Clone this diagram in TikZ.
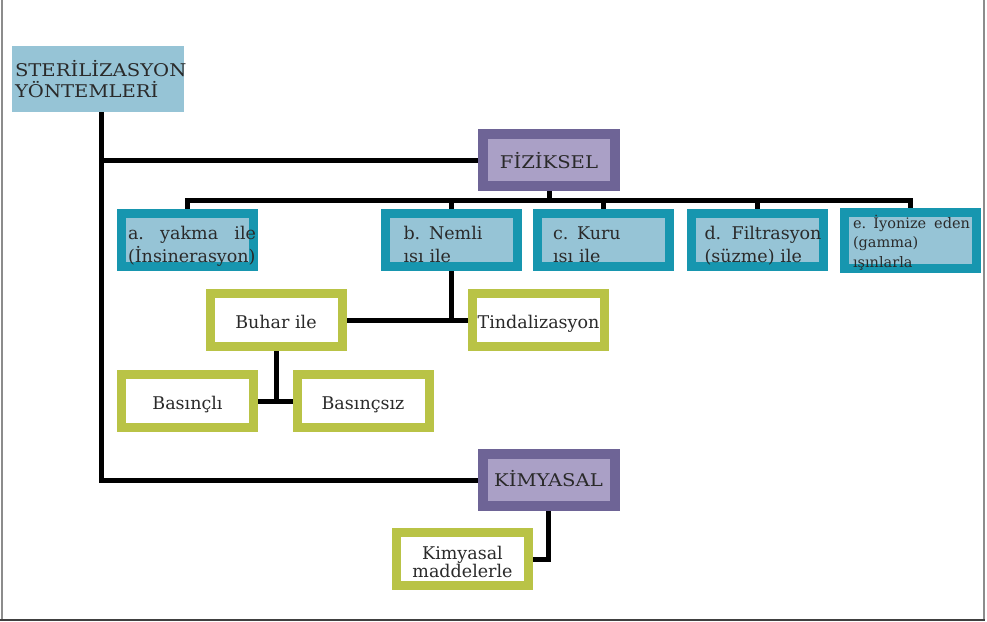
\documentclass[tikz,border=0pt]{standalone}
\usepackage{fontspec}
\setmainfont{DejaVu Serif}
\newfontfamily\capsfont[FakeStretch=1.12]{DejaVu Serif}
\usetikzlibrary{backgrounds}
\definecolor{tealb}{HTML}{1796AF}
\definecolor{lightb}{HTML}{96C4D6}
\definecolor{purpb}{HTML}{6E6496}
\definecolor{lightp}{HTML}{AAA0C6}
\definecolor{greenb}{HTML}{B9C346}
\definecolor{txt}{HTML}{2A2A2A}
\begin{document}
\begin{tikzpicture}[x=1pt,y=-1pt,
  every node/.style={text=txt, inner sep=0pt, outer sep=0pt},
  mainfont/.style={font=\fontsize{17.5}{23}\selectfont},
  bluebox/.style={mainfont, draw=tealb, fill=lightb, line width=9pt,
     minimum width=132pt, minimum height=53pt, text width=132pt, align=left,
     text height=16pt, text depth=18pt},
  purplebox/.style={font=\capsfont\fontsize{17.5}{23}\selectfont, draw=purpb, fill=lightp, line width=10pt,
     minimum width=132pt, minimum height=52pt, text height=16pt, text depth=0pt},
  greenbox/.style={mainfont, draw=greenb, fill=white, line width=9pt,
     minimum width=132pt, minimum height=53pt, text height=16pt, text depth=0pt},
  conn/.style={draw=black, line width=5pt}]
\useasboundingbox (0,0) rectangle (987,621);
% frame
\draw[black!45, line width=2pt] (1.5,0) -- (1.5,619);
\draw[black!45, line width=2pt] (983.5,0) -- (983.5,619);
\draw[black!75, line width=2pt] (0,619.5) -- (984.5,619.5);
% root
\node[fill=lightb, minimum width=172pt, minimum height=66pt, text width=172pt, align=left,
      font=\capsfont\fontsize{17.5}{21}\selectfont, text height=16pt, text depth=22pt]
  (ster) at (98,79) {\hspace*{3pt}\mbox{STERİLİZASYON}\\\hspace*{3pt}\mbox{YÖNTEMLERİ}};
\node[purplebox] (fiz) at (549,160) {FİZİKSEL};
\node[purplebox, text height=12pt] (kim) at (548.5,480) {KİMYASAL};
% level 2
\node[bluebox] (a) at (187.5,240) {\hspace*{6.5pt}\hbox to 128pt{a.\hfill yakma\hfill ile}\\\hspace*{6.5pt}\mbox{(İnsinerasyon)}};
\node[bluebox] (b) at (451,240) {\hspace*{18.5pt}\mbox{b. Nemli}\\\hspace*{18.5pt}\mbox{ısı ile}};
\node[bluebox] (c) at (603.5,240) {\hspace*{15.5pt}\mbox{c. Kuru}\\\hspace*{15.5pt}\mbox{ısı ile}};
\node[bluebox] (d) at (757,240) {\hspace*{13.5pt}\hbox to 117pt{d.\hfill Filtrasyon}\\\hspace*{13.5pt}\mbox{(süzme) ile}};
\node[bluebox, font=\fontsize{14.5}{19.5}\selectfont, text depth=40pt] (e) at (910.5,240)
  {\hspace*{8.5pt}\hbox to 117pt{e. İyonize\hfill eden}\\\hspace*{8.5pt}\mbox{(gamma)}\\\hspace*{8.5pt}\mbox{ışınlarla}};
% green boxes
\node[greenbox] (buhar) at (276,320) {Buhar ile};
\node[greenbox] (tind) at (538.5,320) {Tindalizasyon};
\node[greenbox] (basli) at (187.5,401) {Basınçlı};
\node[greenbox] (bassiz) at (363,401) {Basınçsız};
\node[greenbox, text width=132pt, align=center, font=\fontsize{17.5}{18}\selectfont, text height=16pt, text depth=16pt]
  (kimm) at (462.5,559) {Kimyasal\\maddelerle};
\coordinate (bus) at (549,200);
% connectors
\begin{scope}[on background layer]
\draw[conn] ([xshift=3pt]ster.south) |- (fiz.west);
\draw[conn] ([xshift=3pt]ster.south) |- (kim.west);
\draw[conn] (fiz.south) -- (bus);
\draw[conn] (a.north) |- (bus -| e.north) -- (e.north);
\foreach \n in {b,c,d} \draw[conn] (\n.north) -- (\n.north |- bus);
\draw[conn] (b.south) |- (tind.west);
\draw[conn] (buhar.east) -- (tind.west);
\draw[conn] (buhar.south) |- (bassiz.west);
\draw[conn] (basli.east) -- (bassiz.west);
\draw[conn] (kim.south) |- (kimm.east);
\end{scope}
\end{tikzpicture}
\end{document}
